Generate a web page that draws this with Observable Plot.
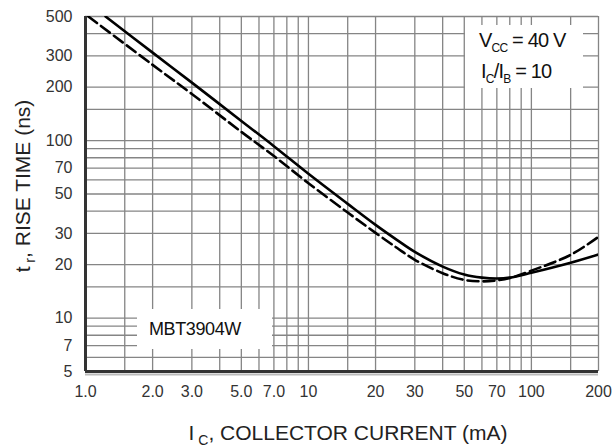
<!DOCTYPE html>
<html>
<head>
<meta charset="utf-8">
<script src="https://cdn.jsdelivr.net/npm/d3@7"></script>
<script src="https://cdn.jsdelivr.net/npm/@observablehq/plot@0.6"></script>
<style>
  body { margin: 0; background: #fff; }
  svg { display: block; }
</style>
</head>
<body>
<div id="chart"></div>
<script>
// Rise time vs collector current, MBT3904W (VCC = 40 V, IC/IB = 10)
const xDomain = [1, 200];   // IC, mA
const yDomain = [5, 500];   // tr, ns

// Solid curve
const solidIc = [1.23, 2, 3, 5, 7, 10, 15, 20, 25, 30, 40, 50, 60, 70, 80, 100, 150, 200];
const solidTr = [500, 313, 212, 129, 93, 65, 44, 33.5, 27.5, 23.6, 19.5, 17.6, 16.9, 16.7, 16.9, 18.0, 20.5, 22.8];

// Dashed curve
const dashedIc = [1.03, 2, 3, 5, 7, 10, 15, 20, 25, 30, 40, 50, 60, 70, 80, 100, 150, 200];
const dashedTr = [500, 267, 183, 112, 81.8, 57.5, 39.3, 30.2, 24.8, 21.3, 17.9, 16.4, 16.1, 16.3, 16.8, 18.5, 22.7, 28.7];

// Grid lines
const xGrid = [1, 1.5, 2, 3, 4, 5, 6, 7, 8, 9, 10, 15, 20, 30, 40, 50, 60, 70, 80, 90, 100, 150, 200];
const yGrid = [5, 6, 7, 8, 9, 10, 15, 20, 30, 40, 50, 60, 70, 80, 90, 100, 150, 200, 300, 400, 500];

// Tick labels
const xTicks = [1, 2, 3, 5, 7, 10, 20, 30, 50, 70, 100, 200];
const xTickLabels = ["1.0", "2.0", "3.0", "5.0", "7.0", "10", "20", "30", "50", "70", "100", "200"];
const yTicks = [5, 7, 10, 20, 30, 50, 70, 100, 200, 300, 500];
const yTickLabels = ["5", "7", "10", "20", "30", "50", "70", "100", "200", "300", "500"];

const solid = solidIc.map((ic, i) => ({ic, tr: solidTr[i]}));
const dashed = dashedIc.map((ic, i) => ({ic, tr: dashedTr[i]}));
const xTickData = xTicks.map((v, i) => ({v, label: xTickLabels[i]}));
const yTickData = yTicks.map((v, i) => ({v, label: yTickLabels[i]}));

const font = "'Liberation Sans', Arial, sans-serif";

const chart = Plot.plot({
  width: 614,
  height: 448,
  marginLeft: 85,
  marginRight: 16,
  marginTop: 16,
  marginBottom: 77,
  style: {fontFamily: font, fontSize: "16px", background: "#fff", color: "#333"},
  x: {type: "log", domain: xDomain, axis: null},
  y: {type: "log", domain: yDomain, axis: null},
  marks: [
    Plot.ruleX(xGrid, {stroke: "#858585", strokeWidth: 1.3}),
    Plot.ruleY(yGrid, {stroke: "#858585", strokeWidth: 1.3}),
    // heavy left and bottom border
    Plot.ruleY([yDomain[0]], {stroke: "#bbb", strokeWidth: 2, dy: 3}),
    Plot.ruleX([xDomain[0]], {stroke: "#333", strokeWidth: 3}),
    Plot.ruleY([yDomain[0]], {stroke: "#333", strokeWidth: 3}),
    // tick labels
    Plot.text(xTickData, {x: "v", text: "label", frameAnchor: "bottom", lineAnchor: "top", dy: 14, fontSize: 16, fill: "#333"}),
    Plot.text(yTickData, {y: "v", text: "label", frameAnchor: "left", textAnchor: "end", dx: -13, fontSize: 16, fill: "#333"}),
    Plot.line(dashed, {x: "ic", y: "tr", stroke: "#000", strokeWidth: 2.6, strokeDasharray: "11,5", curve: "catmull-rom", clip: true}),
    Plot.line(solid, {x: "ic", y: "tr", stroke: "#000", strokeWidth: 2.6, curve: "catmull-rom", clip: true})
  ]
});

document.getElementById("chart").appendChild(chart);

const svg = d3.select(chart);
const firstLine = chart.querySelector('g[aria-label="line"]');

// white panels that break the grid behind the annotations
function panel(x, y, w, h) {
  const r = document.createElementNS("http://www.w3.org/2000/svg", "rect");
  r.setAttribute("x", x); r.setAttribute("y", y);
  r.setAttribute("width", w); r.setAttribute("height", h);
  r.setAttribute("fill", "#fff");
  chart.insertBefore(r, firstLine);
}
panel(465, 25, 118, 63);
panel(137, 309, 135, 40);

// conditions
const cond1 = svg.append("text").attr("x", 479).attr("y", 47).attr("text-anchor", "start")
  .attr("font-family", font).attr("font-size", 20).attr("fill", "#111").attr("letter-spacing", -0.8);
cond1.append("tspan").text("V");
cond1.append("tspan").attr("dy", 5).attr("font-size", 12).text("CC");
cond1.append("tspan").attr("dy", -5).text(" = 40 V");

const cond2 = svg.append("text").attr("x", 481).attr("y", 78).attr("text-anchor", "start")
  .attr("font-family", font).attr("font-size", 20).attr("fill", "#111").attr("letter-spacing", -0.8);
cond2.append("tspan").text("I");
cond2.append("tspan").attr("dy", 5).attr("font-size", 12).text("C");
cond2.append("tspan").attr("dy", -5).text("/I");
cond2.append("tspan").attr("dy", 5).attr("font-size", 12).text("B");
cond2.append("tspan").attr("dy", -5).text(" = 10");

// part number
svg.append("text").attr("x", 149).attr("y", 335).attr("text-anchor", "start")
  .attr("font-family", font).attr("font-size", 18).attr("fill", "#111").attr("letter-spacing", -0.4)
  .text("MBT3904W");

// x axis title
const xt = svg.append("text").attr("x", 348).attr("y", 440).attr("text-anchor", "middle")
  .attr("font-family", font).attr("font-size", 21).attr("fill", "#222");
xt.append("tspan").text("I");
xt.append("tspan").attr("dy", 5).attr("font-size", 14).text(" C");
xt.append("tspan").attr("dy", -5).text(", COLLECTOR CURRENT (mA)");

// y axis title
const yt = svg.append("text").attr("transform", "translate(30,186) rotate(-90)").attr("text-anchor", "middle")
  .attr("font-family", font).attr("font-size", 21).attr("fill", "#222");
yt.append("tspan").text("t");
yt.append("tspan").attr("dy", 5).attr("font-size", 14).text(" r");
yt.append("tspan").attr("dy", -5).text(", RISE TIME (ns)");
</script>
</body>
</html>
